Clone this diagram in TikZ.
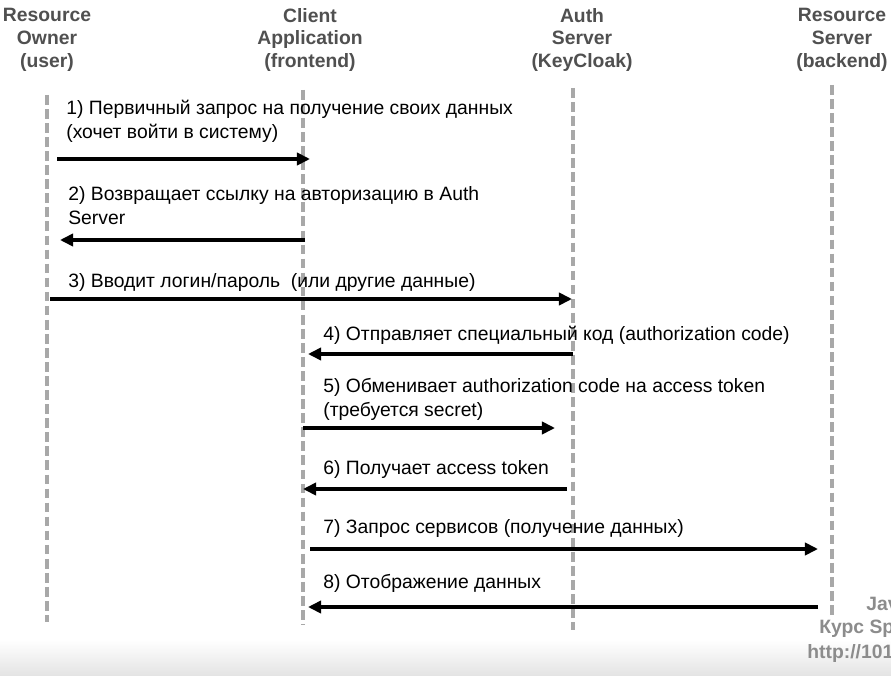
\documentclass[tikz,border=0pt]{standalone}
\usepackage{fontspec}
\setmainfont{Liberation Sans}
\usetikzlibrary{arrows.meta}
\definecolor{lifegray}{RGB}{168,168,168}
\definecolor{headgray}{RGB}{80,80,80}
\definecolor{markgray}{RGB}{140,140,140}
\definecolor{bandgray}{RGB}{228,228,228}
\tikzset{
  actor/.style={font=\bfseries\fontsize{11}{13}\selectfont, text=headgray, align=center, inner sep=0pt},
  lifeline/.style={draw=lifegray, line width=2pt, dash pattern=on 5.5pt off 2.5pt},
  msg/.style={draw=black, line width=2pt, -{Triangle[length=7.5pt,width=7pt]}},
  msgtext/.style={font=\fontsize{11}{13.6}\selectfont, anchor=west, align=left, inner sep=0pt},
  watermark/.style={font=\bfseries\fontsize{11}{13.5}\selectfont, text=markgray, anchor=west, inner sep=0pt},
}
\begin{document}
\begin{tikzpicture}[x=0.02cm, y=-0.02cm]
\clip (0,0) rectangle (891,675);
\fill[white] (0,0) rectangle (891,675);
\shade[top color=white, bottom color=bandgray] (0,640) rectangle (891,675);
% actors
\node[actor] (owner) at (47,40) {Resource\\Owner\\(user)};
\node[actor] (client) at (310,40) {Client\\Application\\(frontend)};
\node[actor] (auth) at (582,40) {Auth\\Server\\(KeyCloak)};
\node[actor] (resource) at (842,40) {Resource\\Server\\(backend)};
% lifelines
\coordinate (owner-top) at (47,95);
\coordinate (owner-bot) at (47,622);
\coordinate (client-top) at (303,90);
\coordinate (client-bot) at (303,625);
\coordinate (auth-top) at (573,88);
\coordinate (auth-bot) at (573,630);
\coordinate (resource-top) at (832,85);
\coordinate (resource-bot) at (832,618);
\draw[lifeline] (owner-top) -- (owner-bot);
\draw[lifeline] (client-top) -- (client-bot);
\draw[lifeline] (auth-top) -- (auth-bot);
\draw[lifeline] (resource-top) -- (resource-bot);
% messages
\coordinate (m1a) at (57,159);
\coordinate (m1b) at (310,159);
\coordinate (m2a) at (305,240);
\coordinate (m2b) at (60,240);
\coordinate (m3a) at (50,299);
\coordinate (m3b) at (572,299);
\coordinate (m4a) at (573,354);
\coordinate (m4b) at (308,354);
\coordinate (m5a) at (303,428);
\coordinate (m5b) at (555,428);
\coordinate (m6a) at (567,489);
\coordinate (m6b) at (303,489);
\coordinate (m7a) at (310,549);
\coordinate (m7b) at (818,549);
\coordinate (m8a) at (818,607);
\coordinate (m8b) at (308,607);
\draw[msg] (m1a) -- (m1b);
\draw[msg] (m2a) -- (m2b);
\draw[msg] (m3a) -- (m3b);
\draw[msg] (m4a) -- (m4b);
\draw[msg] (m5a) -- (m5b);
\draw[msg] (m6a) -- (m6b);
\draw[msg] (m7a) -- (m7b);
\draw[msg] (m8a) -- (m8b);
\node[msgtext] (t1) at (66,121) {1) Первичный запрос на получение своих данных\\(хочет войти в систему)};
\node[msgtext] (t2) at (68,206) {2) Возвращает ссылку на авторизацию в Auth\\Server};
\node[msgtext] (t3) at (68,283) {3) Вводит логин/пароль\ \ (или другие данные)};
\node[msgtext] (t4) at (323,335) {4) Отправляет специальный код (authorization code)};
\node[msgtext] (t5) at (323,399) {5) Обменивает authorization code на access token\\(требуется secret)};
\node[msgtext] (t6) at (323,469) {6) Получает access token};
\node[msgtext] (t7) at (323,528) {7) Запрос сервисов (получение данных)};
\node[msgtext] (t8) at (323,583) {8) Отображение данных};
% watermark
\node[watermark] (w1) at (866,604) {Jav};
\node[watermark] (w2) at (819,629) {Курс Sp};
\node[watermark] (w3) at (807,653) {http://101};
\end{tikzpicture}
\end{document}
